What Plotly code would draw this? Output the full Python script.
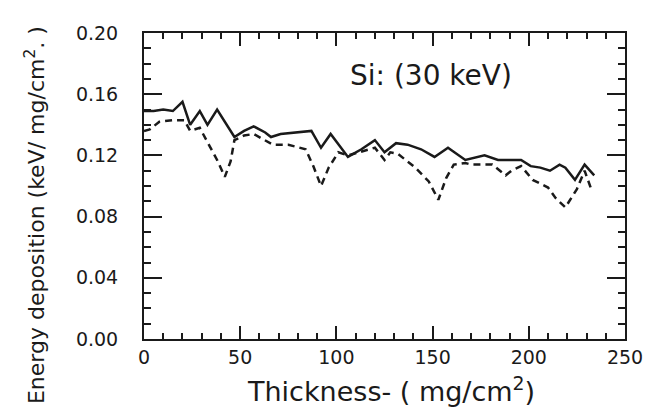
import plotly.graph_objects as go

# Solid curve
thickness_solid = [0, 5, 10, 15, 20, 24, 29, 33, 38, 47, 52, 57, 63, 66, 71, 80, 87, 92, 97,
                   106, 113, 120, 125, 131, 137, 144, 151, 158, 167, 177, 184, 191, 196, 201,
                   206, 211, 216, 219, 224, 229, 234]
edep_solid = [0.149, 0.149, 0.150, 0.149, 0.155, 0.140, 0.149, 0.140, 0.150, 0.132, 0.136,
              0.139, 0.135, 0.132, 0.134, 0.135, 0.136, 0.125, 0.134, 0.119, 0.124, 0.130,
              0.122, 0.128, 0.127, 0.124, 0.119, 0.125, 0.117, 0.120, 0.117, 0.117, 0.117,
              0.113, 0.112, 0.110, 0.114, 0.112, 0.104, 0.114, 0.107]

# Dashed curve
thickness_dashed = [0, 3, 8, 15, 21, 24, 29, 33, 38, 42, 45, 47, 52, 57, 63, 67, 75, 84, 88,
                    92, 96, 101, 106, 115, 120, 125, 128, 132, 141, 148, 153, 157, 161, 167,
                    170, 181, 188, 191, 196, 202, 210, 214, 219, 225, 229, 233]
edep_dashed = [0.136, 0.137, 0.142, 0.143, 0.143, 0.136, 0.138, 0.129, 0.117, 0.106, 0.116,
               0.130, 0.133, 0.134, 0.130, 0.127, 0.127, 0.124, 0.113, 0.100, 0.112, 0.122,
               0.120, 0.123, 0.125, 0.117, 0.122, 0.121, 0.112, 0.103, 0.091, 0.105, 0.114,
               0.115, 0.114, 0.114, 0.107, 0.110, 0.113, 0.104, 0.099, 0.092, 0.086, 0.098,
               0.110, 0.096]

x_tickvals = [0, 50, 100, 150, 200, 250]
x_ticktext = ["0", "50", "100", "150", "200", "250"]
y_tickvals = [0.00, 0.04, 0.08, 0.12, 0.16, 0.20]
y_ticktext = ["0.00", "0.04", "0.08", "0.12", "0.16", "0.20"]

FONT = "DejaVu Sans"
INK = "#1a1a1a"

fig = go.Figure()
fig.add_trace(go.Scatter(x=thickness_solid, y=edep_solid, mode="lines",
                         line=dict(color=INK, width=2.5), showlegend=False))
fig.add_trace(go.Scatter(x=thickness_dashed, y=edep_dashed, mode="lines",
                         line=dict(color=INK, width=2.5, dash="7px,5px"), showlegend=False))

fig.update_xaxes(range=[0, 250], showline=True, linewidth=2, linecolor=INK, mirror="ticks",
                 ticks="inside", ticklen=13, tickwidth=2, tickcolor=INK,
                 tickvals=x_tickvals, ticktext=x_ticktext,
                 tickfont=dict(family=FONT, size=19, color=INK), ticklabelstandoff=0,
                 minor=dict(ticks="inside", dtick=10, ticklen=6, tickwidth=1.5, tickcolor=INK),
                 showgrid=False, zeroline=False)
fig.update_yaxes(range=[0, 0.2], showline=True, linewidth=2, linecolor=INK, mirror="ticks",
                 ticks="inside", ticklen=18, tickwidth=2, tickcolor=INK,
                 tickvals=y_tickvals, ticktext=y_ticktext,
                 tickfont=dict(family=FONT, size=19, color=INK), ticklabelstandoff=20,
                 minor=dict(ticks="inside", dtick=0.01, ticklen=7, tickwidth=1.5, tickcolor=INK),
                 showgrid=False, zeroline=False)

fig.add_annotation(text="Si: (30 keV)", xref="paper", yref="paper", x=0.596, y=0.86,
                   xanchor="center", yanchor="middle", showarrow=False,
                   font=dict(family=FONT, size=28, color=INK))
fig.add_annotation(text="Thickness- ( mg/cm<sup>2</sup>)", xref="paper", yref="paper",
                   x=0.513, y=-0.165, xanchor="center", yanchor="middle", showarrow=False,
                   font=dict(family=FONT, size=27, color=INK))
fig.add_annotation(text="Energy deposition (keV/ mg/cm<sup>2</sup>. )", xref="paper", yref="paper",
                   x=-0.2266, y=0.405, xanchor="center", yanchor="middle", textangle=-90,
                   showarrow=False, font=dict(family=FONT, size=22, color=INK))

fig.update_layout(width=652, height=414, margin=dict(l=136, r=35, t=25, b=83),
                  paper_bgcolor="white", plot_bgcolor="white")

fig.write_html("out.html")
